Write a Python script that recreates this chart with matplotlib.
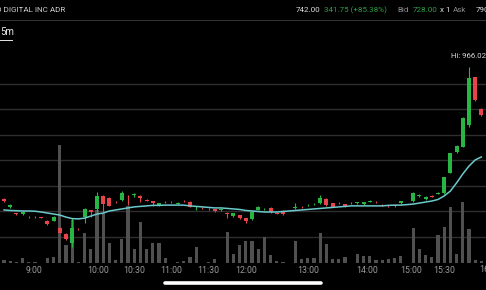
import matplotlib
matplotlib.use("Agg")
import matplotlib.pyplot as plt
from matplotlib.lines import Line2D
import numpy as np

plt.rcParams['font.family'] = ['Roboto', 'DejaVu Sans']

# 5-minute candles, one per slot (nan = no trade in that slot)
nan = np.nan
opens = [449, 418, 394, 390, 380, 380, 379, 362, 363, 335,
         312, 277, 333, 378, 406, 410, 461, 453, 439, 445,
         458, 463, 461, 447, 441, 422, 436, 439, 431, 443,
         437, 412, 415, 411, 408, 404, 396, 382, 386, 374,
         370, 406, 408, 414, 395, 402, nan, 413, 419, 424,
         428, 433, 449, 433, 435, 429, 432, 433, 429, 439,
         439, 427, 423, 425, 433, nan, 441, 459, 449, 461,
         470, 472, 551, 633, 653, 739, 927, 802]
closes = [441, 425, 390, 398, 377, 377, 376, 351, 378, 316,
          292, 335, 330, 410, 398, 461, 429, 422, 436, 472,
          455, 467, 453, 443, 433, 433, 439, 436, 435, 440,
          418, 415, 412, 408, 401, 408, 390, 394, 374, 363,
          398, 418, 411, 398, 392, 390, nan, 418, 416, 427,
          431, 453, 425, 418, 432, 418, 435, 436, 437, 442,
          436, 424, 420, 421, 441, nan, 472, 463, 457, 457,
          474, 535, 629, 657, 767, 923, 837, 778]
highs = [452, 428, 396, 400, 381, 381, 380, 366, 381, 338,
         314, 374, 335, 412, 407, 476, 463, 455, 441, 480,
         465, 472, 463, 449, 443, 435, 441, 441, 437, 445,
         440, 421, 417, 413, 410, 410, 398, 396, 388, 376,
         400, 420, 415, 416, 397, 404, nan, 433, 421, 429,
         433, 465, 453, 435, 437, 431, 437, 438, 439, 444,
         441, 429, 425, 427, 443, nan, 476, 468, 459, 463,
         476, 537, 631, 659, 769, 966.02, 929, 804]
lows = [438, 415, 388, 388, 376, 376, 375, 348, 361, 314,
        290, 261, 328, 355, 378, 398, 398, 420, 434, 443,
        425, 458, 437, 441, 421, 420, 434, 434, 429, 438,
        416, 406, 410, 406, 399, 402, 374, 380, 372, 355,
        368, 404, 405, 396, 390, 388, nan, 411, 414, 422,
        426, 431, 423, 416, 430, 416, 430, 431, 427, 437,
        434, 422, 418, 419, 431, nan, 439, 455, 447, 455,
        468, 470, 549, 631, 651, 731, 835, 776]
volumes = [3, 2, 1, 5, 1, 1, 0.5, 5, 6, 118,
           18, 43, 1, 30, 14, 53, 50, 20, 3, 24,
           57, 14, 41, 14, 20, 20, 5, 0.5, 1, 2,
           6, 16, 0.5, 1, 4, 0.5, 31, 9, 18, 22,
           22, 14, 26, 8, 2, 1, 0, 22, 4, 5,
           5, 30, 19, 4, 4, 6, 0.5, 9, 7, 7,
           3, 3, 4, 5, 7, 0.5, 35, 14, 8, 6,
           28, 36, 56, 9, 61, 34, 3, 2]
ma_line = [406, 404, 403, 402, 402, 401, 398, 394, 390, 386,
           378, 372, 371, 374, 382, 390, 394, 402, 406, 410,
           414, 418, 420, 422, 424, 424, 425, 425, 425, 425,
           422, 420, 418, 416, 414, 414, 412, 410, 408, 404,
           402, 400, 398, 398, 398, 400, 402, 404, 406, 408,
           410, 412, 414, 416, 418, 420, 422, 422, 422, 422,
           422, 422, 424, 425, 425, 427, 429, 433, 437, 441,
           447, 461, 480, 512, 547, 578, 602, 614]

tick_pos = [4.8, 15.1, 21.0, 27.0, 33.0, 39.0, 49.1, 58.5, 65.6, 71.0]
tick_labels = ['9:00', '10:00', '10:30', '11:00', '11:30', '12:00',
               '13:00', '14:00', '15:00', '15:30']
grid_levels = [300, 400, 500, 600, 700, 800, 900]

UP = '#27b543'
DOWN = '#e6434a'
BG = 'black'

W, H = 486, 290
fig = plt.figure(figsize=(W / 100, H / 100), dpi=100, facecolor=BG)
rect = [0, 27 / H, 1, 223 / H]

ax_grid = fig.add_axes(rect, facecolor=BG)
ax_vol = fig.add_axes(rect, sharex=ax_grid)
ax = fig.add_axes(rect, sharex=ax_grid, sharey=ax_grid)
for a in (ax_vol, ax):
    a.patch.set_alpha(0)
for a in (ax_grid, ax_vol, ax):
    for s in a.spines.values():
        s.set_visible(False)
    a.set_yticks([])
    a.tick_params(length=0)

x = np.arange(len(opens))
o = np.array(opens, float)
c = np.array(closes, float)
hi = np.array(highs, float)
lo = np.array(lows, float)
valid = ~np.isnan(o)

ax_grid.set_xlim(-0.65, 77.75)
ax_grid.set_ylim(198, 1072.5)
for g in grid_levels:
    ax_grid.axhline(g, color='#2e2e2e', lw=1.0)

# volume
ax_vol.bar(x, volumes, width=0.5, color='#505050')
ax_vol.set_ylim(0, 223)

# candles
up = valid & (c >= o)
dn = valid & (c < o)
for mask, col in ((up, UP), (dn, DOWN)):
    ax.vlines(x[mask], lo[mask], hi[mask], color=col, lw=0.8)
    bottom = np.minimum(o[mask], c[mask])
    height = np.maximum(np.abs(c[mask] - o[mask]), 3)
    ax.bar(x[mask], height, bottom=bottom, width=0.66, color=col)

ax.plot(x, ma_line, color='#6cc9cc', lw=1.1)

ax.text(75, 1010, 'Hi: 966.02', color='#d8d8d8', fontsize=5.6,
        ha='center', va='center', clip_on=False)

ax_grid.set_xticks(tick_pos)
ax_grid.set_xticklabels(tick_labels)
ax_grid.tick_params(axis='x', colors='#9a9a9a', labelsize=6.3, pad=2.5)
for a in (ax_vol, ax):
    a.tick_params(axis='x', labelbottom=False)
ax_grid.text(78.4, -0.031, '16:00', color='#9a9a9a', fontsize=6.3,
             ha='center', va='center', transform=ax_grid.get_xaxis_transform(),
             clip_on=False)

# header
def px(xp, yp):
    return xp / W, 1 - yp / H

HF = 5.8
fig.text(*px(-3.5, 10), 'O DIGITAL INC ADR', color='#cfcfcf', fontsize=HF,
         va='center', ha='left')
fig.text(*px(296, 10), '742.00', color='#e0e0e0', fontsize=HF, va='center')
fig.text(*px(324, 10), '341.75 (+85.38%)', color='#2f9e44', fontsize=HF, va='center')
fig.text(*px(397, 10), 'Bid', color='#8a8a8a', fontsize=HF, va='center')
fig.text(*px(413, 10), '728.00', color='#2f9e44', fontsize=HF, va='center')
fig.text(*px(440, 10), 'x 1', color='#e0e0e0', fontsize=HF, va='center')
fig.text(*px(453, 10), 'Ask', color='#8a8a8a', fontsize=HF, va='center')
fig.text(*px(476, 10), '790.00', color='#e0e0e0', fontsize=HF, va='center')
fig.add_artist(Line2D([0, 1], [1 - 20 / H] * 2, color='#333333', lw=0.8))

fig.text(*px(0, 32), '5m', color='#e8e8e8', fontsize=7, va='center', ha='left')
fig.add_artist(Line2D([0, 12 / W], [1 - 40 / H] * 2, color='#e8e8e8', lw=0.7))

# home indicator
fig.add_artist(Line2D([165 / W, 321 / W], [1 - 283 / H] * 2, color='white',
                      lw=2.6, solid_capstyle='round'))

fig.savefig('out.png', dpi=100, facecolor=BG)
